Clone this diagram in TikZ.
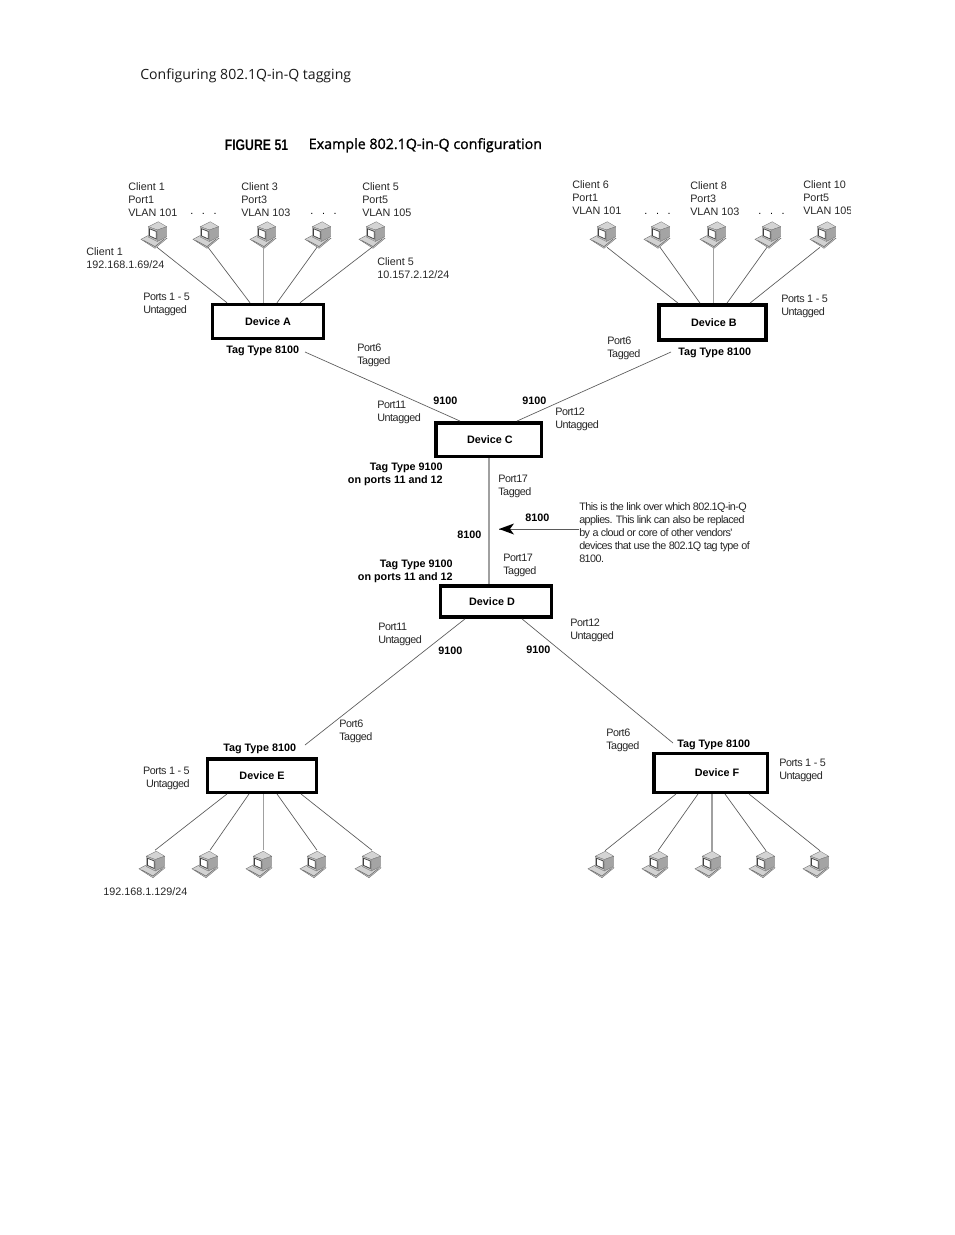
\documentclass[tikz,border=0pt]{standalone}
\usepackage{fontspec}
\usetikzlibrary{calc,arrows.meta}
\setmainfont{Liberation Sans}
\newfontfamily\headfont{Open Sans}
\newfontfamily\titlefont[FakeBold=1.1]{Open Sans}
\newfontfamily\figfont[FakeStretch=0.8]{Liberation Sans}
\newfontfamily\tightfont[LetterSpace=-4.2]{Liberation Sans}
\newfontfamily\notefont[LetterSpace=-5.2]{Liberation Sans}
\definecolor{linkgray}{HTML}{5A5A5A}
\definecolor{vlinkgray}{HTML}{A0A0A0}
\definecolor{pcface}{HTML}{C4C4C4}
\definecolor{pcside}{HTML}{A4A4A4}
\definecolor{pctop}{HTML}{D4D4D4}
\definecolor{pcbase}{HTML}{D2D2D2}
\definecolor{pcedge}{HTML}{707070}
\definecolor{pcframe}{HTML}{404040}
\tikzset{
  devbox/.style={draw=black,line width=2.6pt,fill=white,inner sep=0pt,font=\fontsize{8.1}{9.75}\selectfont\bfseries},
  lbl/.style={anchor=north west,align=left,inner sep=0pt,font=\fontsize{8.1}{9.75}\selectfont,text=black!85},
  tlbl/.style={lbl,font=\tightfont\fontsize{8.1}{9.75}\selectfont},
  tlblr/.style={tlbl,anchor=north east,align=right},
  blbl/.style={lbl,font=\fontsize{8.1}{9.75}\selectfont\bfseries,text=black},
  blblr/.style={blbl,anchor=north east,align=right},
  dotsl/.style={anchor=base,inner sep=0pt,font=\fontsize{8.1}{9.75}\selectfont},
  pcnode/.style={inner sep=0pt,minimum width=19.5pt,minimum height=21pt},
  link/.style={draw=linkgray,line width=0.5pt},
  vlink/.style={draw=vlinkgray,line width=0.75pt},
}
% computer icon: invisible named node plus its drawing
\newcommand{\pcicon}[3]{%
  \node[pcnode] (#1) at (#2,#3) {};
  \begin{scope}[shift={(#1.center)}]
    \fill[pcbase,draw=pcedge,line width=0.3pt] (-13,4.3) -- (-1,-2) -- (13,3.3) -- (1,13.3) -- cycle;
    \draw[pcedge,line width=0.5pt] (-10.5,5.4) -- (1,11.6) -- (10.5,3.8);
    \fill[pctop,draw=pcedge,line width=0.2pt] (-5.7,-8.3) -- (4.3,-13.3) -- (12.7,-8.3) -- (3.3,-5) -- cycle;
    \fill[pcside,draw=pcedge,line width=0.2pt] (3.3,-5) -- (12.7,-8.3) -- (12.7,1.7) -- (3.3,6.5) -- cycle;
    \fill[pcface,draw=pcedge,line width=0.2pt] (-5.7,-8.3) -- (3.3,-5) -- (3.3,6.5) -- (-5.7,2) -- cycle;
    \fill[white,draw=pcframe,line width=0.55pt] (-4.4,-6.2) -- (2.2,-3.6) -- (2.2,4) -- (-4.4,0.9) -- cycle;
  \end{scope}}
\begin{document}
\begin{tikzpicture}[x=0.75pt,y=-0.75pt]
\useasboundingbox (0,0) rectangle (954,1235);
% headings
\node[anchor=base west,inner sep=0pt,font=\headfont\fontsize{10.55}{13}\selectfont,text=black!90] (head) at (140,79) {Configuring 802.1Q-in-Q tagging};
\node[anchor=base west,inner sep=0pt,font=\figfont\bfseries\fontsize{11.5}{13}\selectfont] (figlab) at (224.5,150) {FIGURE 51};
\node[anchor=base west,inner sep=0pt,font=\titlefont\fontsize{10.7}{13}\selectfont] (figtitle) at (308.5,149) {Example 802.1Q-in-Q configuration};
% devices
\node[devbox,minimum width=82.9pt,minimum height=25.5pt] (devA) at (268,321.5) {Device A};
\node[devbox,minimum width=80.5pt,minimum height=26.5pt] (devB) at (712.5,322.5) {\hspace*{2pt}Device B};
\node[devbox,minimum width=79.1pt,minimum height=25.1pt] (devC) at (488.5,439.5) {\hspace*{2pt}Device C};
\node[devbox,minimum width=82.9pt,minimum height=23.5pt] (devD) at (496,601.5) {Device D\hspace*{6pt}};
\node[devbox,minimum width=81.5pt,minimum height=25.1pt] (devE) at (262,775.5) {Device E};
\node[devbox,minimum width=85.1pt,minimum height=28.9pt] (devF) at (710.5,773) {\hspace*{9.75pt}Device F};
% computers
\pcicon{pA1}{154}{235}\pcicon{pA2}{206}{235}\pcicon{pA3}{263}{235}\pcicon{pA4}{318}{235}\pcicon{pA5}{372}{235}
\pcicon{pB1}{603}{235}\pcicon{pB2}{657}{235}\pcicon{pB3}{713}{235}\pcicon{pB4}{768}{235}\pcicon{pB5}{823}{235}
\pcicon{pE1}{152}{864.5}\pcicon{pE2}{205}{864.5}\pcicon{pE3}{259}{864.5}\pcicon{pE4}{313}{864.5}\pcicon{pE5}{368}{864.5}
\pcicon{pF1}{601}{864.5}\pcicon{pF2}{655}{864.5}\pcicon{pF3}{708}{864.5}\pcicon{pF4}{762}{864.5}\pcicon{pF5}{816}{864.5}
% computer links
\draw[link] ($(pA1.south)+(3,-2)$) -- ($(devA.north)+(-41,0)$);
\draw[link] ($(pA2.south)+(2,-2)$) -- ($(devA.north)+(-18,0)$);
\draw[vlink] ($(pA3.south)+(0,-2)$) -- ($(devA.north)+(-5,0)$);
\draw[link] ($(pA4.south)+(-1,-2)$) -- ($(devA.north)+(9,0)$);
\draw[link] ($(pA5.south)+(0,-2)$) -- ($(devA.north)+(32,0)$);
\draw[link] ($(pB1.south)+(4,-2)$) -- ($(devB.north)+(-34.5,0)$);
\draw[link] ($(pB2.south)+(3,-2)$) -- ($(devB.north)+(-12.5,0)$);
\draw[vlink] ($(pB3.south)+(0,-2)$) -- ($(devB.north)+(0.5,0)$);
\draw[link] ($(pB4.south)+(-1,-2)$) -- ($(devB.north)+(14.5,0)$);
\draw[link] ($(pB5.south)+(-3,-2)$) -- ($(devB.north)+(37.5,0)$);
\draw[link] ($(pE1.north)+(3,0)$) -- ($(devE.south)+(-35,0)$);
\draw[link] ($(pE2.north)+(5,0)$) -- ($(devE.south)+(-13,0)$);
\draw[vlink] ($(pE3.north)+(4,0)$) -- ($(devE.south)+(1,0)$);
\draw[link] ($(pE4.north)+(4,0)$) -- ($(devE.south)+(15,0)$);
\draw[link] ($(pE5.north)+(4,0)$) -- ($(devE.south)+(39,0)$);
\draw[link] ($(pF1.north)+(4,0.5)$) -- ($(devF.south)+(-34.5,0)$);
\draw[link] ($(pF2.north)+(3,0.5)$) -- ($(devF.south)+(-12.5,0)$);
\draw[vlink,line width=1pt] ($(pF3.north)+(4,0.5)$) -- ($(devF.south)+(1.5,0)$);
\draw[link] ($(pF4.north)+(4,0.5)$) -- ($(devF.south)+(14.5,0)$);
\draw[link] ($(pF5.north)+(4,0.5)$) -- ($(devF.south)+(38.5,0)$);
% free ends of the device links
\coordinate (endA) at (305,352);
\coordinate (endB) at (671,352);
\coordinate (endE) at (305,745);
\coordinate (endF) at (673,743);
\draw[link] (endA) -- ($(devC.north)+(-28.5,0)$);
\draw[link] (endB) -- ($(devC.north)+(28.5,0)$);
\draw[vlink,line width=1pt] ($(devC.south)+(0.5,0)$) -- ($(devD.north)+(-7,0)$);
\draw[link] (endE) -- ($(devD.south)+(-31,0)$);
\draw[link] (endF) -- ($(devD.south)+(26,0)$);
% labels, client groups
\node[lbl] (l1) at (128,182) {Client 1\\Port1\\VLAN 101};
\node[lbl] (l2) at (241,182) {Client 3\\Port3\\VLAN 103};
\node[lbl] (l3) at (362,182) {Client 5\\Port5\\VLAN 105};
\node[dotsl] (d1) at (203.5,214.5) {.\hspace{6.5pt}.\hspace{6.5pt}.};
\node[dotsl] (d2) at (323.5,214.5) {.\hspace{6.5pt}.\hspace{6.5pt}.};
\node[lbl] (l4) at (86,247) {Client 1\\192.168.1.69/24};
\node[lbl] (l5) at (377,257) {Client 5\\10.157.2.12/24};
\node[tlbl] (l6) at (143,293) {Ports 1 - 5\\Untagged};
\node[blbl] (tagA) at (226,346) {Tag Type 8100};
\node[tlbl] (l7) at (357,344) {Port6\\Tagged};
\node[lbl] (l8) at (572,180) {Client 6\\Port1\\VLAN 101};
\node[lbl] (l9) at (690,181) {Client 8\\Port3\\VLAN 103};
\node[lbl] (l10) at (803,180) {Client 10\\Port5\\VLAN 105};
\fill[white] (851,200) rectangle (870,220);
\node[dotsl] (d3) at (657.5,214) {.\hspace{6.5pt}.\hspace{6.5pt}.};
\node[dotsl] (d4) at (771.5,214) {.\hspace{6.5pt}.\hspace{6.5pt}.};
\node[tlbl] (l11) at (781,295) {Ports 1 - 5\\Untagged};
\node[blbl] (tagB) at (678,348) {Tag Type 8100};
\node[tlbl] (l12) at (607,337) {Port6\\Tagged};
% labels, centre
\node[blbl] (n1) at (433,397) {9100};
\node[tlbl] (l13) at (377,401) {Port11\\Untagged};
\node[blbl] (n2) at (522,397) {9100};
\node[tlbl] (l14) at (555,408) {Port12\\Untagged};
\node[blblr] (tagC) at (443,463) {Tag Type 9100\\on ports 11 and 12};
\node[tlbl] (l15) at (498,475) {Port17\\Tagged};
\node[blbl] (n3) at (525,514) {8100};
\node[blbl] (n4) at (457,531) {8100};
\node[blblr] (tagD) at (453,560) {Tag Type 9100\\on ports 11 and 12};
\node[tlbl] (l16) at (503,554) {Port17\\Tagged};
\node[tlbl,font=\notefont\fontsize{8.1}{9.9}\selectfont] (note) at (579,502) {This is the link over which 802.1Q-in-Q\\applies. This link can also be replaced\\by a cloud or core of other vendors'\\devices that use the 802.1Q tag type of\\8100.};
\coordinate (arrowtip) at (499,529);
\draw[draw=linkgray,line width=0.5pt] (note.west |- arrowtip) -- (arrowtip);
\fill[black] (arrowtip) -- (514,523.5) -- (510,529) -- (514,534.5) -- cycle;
\node[tlbl] (l17) at (378,623) {Port11\\Untagged};
\node[blbl] (n5) at (438,647) {9100};
\node[blbl] (n6) at (526,646) {9100};
\node[tlbl] (l18) at (570,619) {Port12\\Untagged};
% labels, bottom
\node[tlbl] (l19) at (339,720) {Port6\\Tagged};
\node[tlbl] (l20) at (606,729) {Port6\\Tagged};
\node[blbl] (tagE) at (223,744) {Tag Type 8100};
\node[blbl] (tagF) at (677,740) {Tag Type 8100};
\node[tlblr] (l21) at (190,767) {Ports 1 - 5\\Untagged};
\node[tlbl] (l22) at (779,759) {Ports 1 - 5\\Untagged};
\node[lbl] (l23) at (103,887) {192.168.1.129/24};
\end{tikzpicture}
\end{document}
